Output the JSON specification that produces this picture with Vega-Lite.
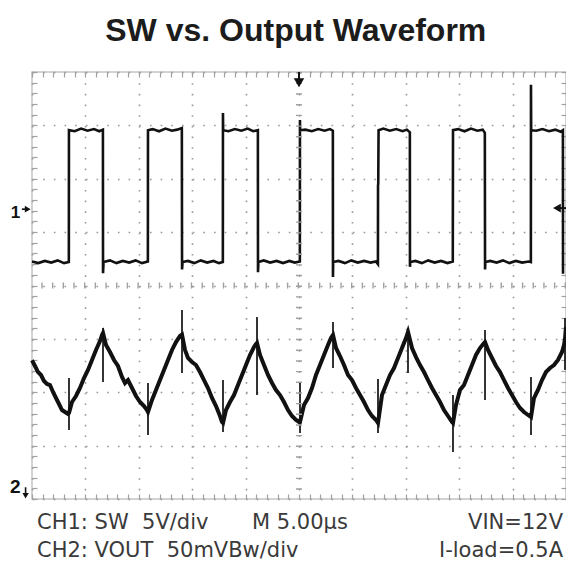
{
  "$schema": "https://vega.github.io/schema/vega-lite/v6.json",
  "width": 534,
  "height": 427,
  "autosize": {"type": "none"},
  "padding": {"left": 32, "top": 72, "right": 0, "bottom": 65},
  "background": "white",
  "config": {"view": {"stroke": "#c4c4c4", "strokeWidth": 1.5}},
  "resolve": {"axis": {"x": "independent", "y": "independent"}},
  "datasets": {
    "one": [{}],
    "sw": [
      {"t":0,"v":4.45},{"t":0.6,"v":4.42},{"t":1.2,"v":4.46},{"t":1.8,"v":4.43},{"t":2.4,"v":4.47},{"t":3.0,"v":4.42},{"t":3.45,"v":4.44},
      {"t":3.46,"v":6.91},{"t":4.0,"v":6.89},{"t":4.6,"v":6.94},{"t":5.2,"v":6.90},{"t":5.8,"v":6.93},{"t":6.3,"v":6.89},{"t":6.64,"v":6.92},
      {"t":6.65,"v":4.23},{"t":6.7,"v":4.44},{"t":7.3,"v":4.47},{"t":7.9,"v":4.42},{"t":8.5,"v":4.46},{"t":9.1,"v":4.43},{"t":9.7,"v":4.47},{"t":10.3,"v":4.42},{"t":10.85,"v":4.45},
      {"t":10.86,"v":6.91},{"t":11.3,"v":6.93},{"t":11.9,"v":6.89},{"t":12.5,"v":6.94},{"t":13.1,"v":6.90},{"t":13.6,"v":6.92},{"t":14.03,"v":6.95},
      {"t":14.05,"v":4.30},{"t":14.1,"v":4.44},{"t":14.6,"v":4.46},{"t":15.2,"v":4.42},{"t":15.8,"v":4.47},{"t":16.4,"v":4.43},{"t":17.0,"v":4.46},{"t":17.5,"v":4.42},{"t":17.87,"v":4.44},
      {"t":17.88,"v":7.23},{"t":17.9,"v":6.91},{"t":18.4,"v":6.89},{"t":19.0,"v":6.93},{"t":19.6,"v":6.90},{"t":20.2,"v":6.94},{"t":20.7,"v":6.89},{"t":21.15,"v":6.91},
      {"t":21.16,"v":4.25},{"t":21.2,"v":4.44},{"t":21.7,"v":4.47},{"t":22.3,"v":4.43},{"t":22.9,"v":4.46},{"t":23.5,"v":4.42},{"t":24.1,"v":4.46},{"t":24.6,"v":4.43},{"t":25.08,"v":4.45},
      {"t":25.09,"v":7.10},{"t":25.1,"v":6.91},{"t":25.6,"v":6.92},{"t":26.2,"v":6.89},{"t":26.8,"v":6.93},{"t":27.4,"v":6.90},{"t":27.9,"v":6.93},{"t":28.17,"v":6.90},
      {"t":28.18,"v":4.16},{"t":28.2,"v":4.44},{"t":28.7,"v":4.46},{"t":29.3,"v":4.42},{"t":29.9,"v":4.47},{"t":30.5,"v":4.43},{"t":31.1,"v":4.46},{"t":31.7,"v":4.43},{"t":32.2,"v":4.45},{"t":32.39,"v":4.40},
      {"t":32.40,"v":5.88},{"t":32.42,"v":5.90},{"t":32.45,"v":6.91},{"t":32.9,"v":6.94},{"t":33.5,"v":6.90},{"t":34.1,"v":6.93},{"t":34.7,"v":6.89},{"t":35.1,"v":6.92},{"t":35.38,"v":6.87},
      {"t":35.39,"v":4.35},{"t":35.42,"v":4.44},{"t":35.9,"v":4.46},{"t":36.5,"v":4.42},{"t":37.1,"v":4.47},{"t":37.7,"v":4.43},{"t":38.3,"v":4.46},{"t":38.9,"v":4.42},{"t":39.4,"v":4.45},
      {"t":39.42,"v":6.91},{"t":39.9,"v":6.93},{"t":40.5,"v":6.89},{"t":41.1,"v":6.94},{"t":41.7,"v":6.90},{"t":42.2,"v":6.92},{"t":42.4,"v":6.86},
      {"t":42.42,"v":4.30},{"t":42.45,"v":4.44},{"t":42.9,"v":4.46},{"t":43.5,"v":4.43},{"t":44.1,"v":4.47},{"t":44.7,"v":4.42},{"t":45.3,"v":4.46},{"t":45.9,"v":4.43},{"t":46.5,"v":4.45},{"t":46.71,"v":4.44},
      {"t":46.72,"v":7.76},{"t":46.74,"v":6.91},{"t":47.2,"v":6.90},{"t":47.8,"v":6.93},{"t":48.4,"v":6.89},{"t":49.0,"v":6.92},{"t":49.5,"v":6.88},{"t":49.71,"v":6.91},
      {"t":49.72,"v":4.22}
    ],
    "vout": [
      {"t":0,"v":2.60},{"t":0.281,"v":2.492},{"t":0.562,"v":2.379},{"t":0.843,"v":2.323},{"t":1.124,"v":2.211},{"t":1.404,"v":2.155},{"t":1.685,"v":2.136},{"t":1.966,"v":2.005},{"t":2.247,"v":1.892},{"t":2.528,"v":1.780},{"t":2.809,"v":1.667},{"t":3.090,"v":1.630},{"t":3.371,"v":1.592},{"t":3.464,"v":1.611},
      {"t":3.745,"v":1.817},{"t":4.120,"v":1.930},{"t":4.494,"v":2.080},{"t":4.869,"v":2.267},{"t":5.243,"v":2.417},{"t":5.618,"v":2.604},{"t":5.993,"v":2.792},{"t":6.367,"v":2.960},{"t":6.554,"v":3.073},{"t":6.648,"v":3.110},
      {"t":6.929,"v":2.885},{"t":7.303,"v":2.754},{"t":7.678,"v":2.604},{"t":8.052,"v":2.492},{"t":8.427,"v":2.286},{"t":8.708,"v":2.173},{"t":8.989,"v":2.229},{"t":9.363,"v":2.080},{"t":9.738,"v":1.930},{"t":10.112,"v":1.817},{"t":10.487,"v":1.742},{"t":10.768,"v":1.667},{"t":10.861,"v":1.630},
      {"t":11.236,"v":1.855},{"t":11.610,"v":2.042},{"t":11.985,"v":2.229},{"t":12.360,"v":2.417},{"t":12.734,"v":2.604},{"t":13.109,"v":2.792},{"t":13.483,"v":2.941},{"t":13.858,"v":3.054},{"t":14.045,"v":3.080},
      {"t":14.326,"v":2.792},{"t":14.607,"v":2.642},{"t":14.981,"v":2.567},{"t":15.356,"v":2.510},{"t":15.730,"v":2.379},{"t":16.105,"v":2.229},{"t":16.479,"v":2.080},{"t":16.854,"v":1.892},{"t":17.228,"v":1.742},{"t":17.603,"v":1.555},{"t":17.790,"v":1.443},{"t":17.884,"v":1.424},
      {"t":18.165,"v":1.667},{"t":18.539,"v":1.817},{"t":18.914,"v":1.948},{"t":19.288,"v":2.136},{"t":19.663,"v":2.323},{"t":20.037,"v":2.510},{"t":20.412,"v":2.698},{"t":20.787,"v":2.848},{"t":20.974,"v":2.904},{"t":21.067,"v":2.923},
      {"t":21.348,"v":2.698},{"t":21.723,"v":2.510},{"t":22.097,"v":2.323},{"t":22.472,"v":2.173},{"t":22.846,"v":2.042},{"t":23.221,"v":1.948},{"t":23.596,"v":1.817},{"t":23.970,"v":1.667},{"t":24.345,"v":1.555},{"t":24.719,"v":1.480},{"t":25.000,"v":1.443},{"t":25.094,"v":1.443},
      {"t":25.468,"v":1.761},{"t":25.843,"v":1.892},{"t":26.217,"v":2.080},{"t":26.592,"v":2.323},{"t":26.966,"v":2.510},{"t":27.341,"v":2.698},{"t":27.715,"v":2.885},{"t":27.996,"v":3.016},{"t":28.184,"v":3.073},
      {"t":28.464,"v":2.829},{"t":28.839,"v":2.679},{"t":29.213,"v":2.510},{"t":29.588,"v":2.323},{"t":29.963,"v":2.229},{"t":30.337,"v":2.080},{"t":30.712,"v":1.948},{"t":31.086,"v":1.817},{"t":31.461,"v":1.667},{"t":31.835,"v":1.555},{"t":32.210,"v":1.480},{"t":32.397,"v":1.424},
      {"t":32.772,"v":1.948},{"t":33.146,"v":2.136},{"t":33.521,"v":2.323},{"t":33.895,"v":2.454},{"t":34.270,"v":2.642},{"t":34.644,"v":2.829},{"t":35.019,"v":3.016},{"t":35.206,"v":3.129},
      {"t":35.581,"v":2.829},{"t":35.955,"v":2.660},{"t":36.330,"v":2.510},{"t":36.704,"v":2.379},{"t":37.079,"v":2.229},{"t":37.453,"v":2.080},{"t":37.828,"v":1.948},{"t":38.202,"v":1.817},{"t":38.577,"v":1.667},{"t":38.951,"v":1.555},{"t":39.326,"v":1.443},{"t":39.419,"v":1.424},
      {"t":39.700,"v":1.761},{"t":40.075,"v":2.042},{"t":40.449,"v":2.136},{"t":40.824,"v":2.323},{"t":41.198,"v":2.510},{"t":41.573,"v":2.698},{"t":41.948,"v":2.829},{"t":42.322,"v":2.923},{"t":42.416,"v":2.941},
      {"t":42.697,"v":2.792},{"t":43.071,"v":2.642},{"t":43.446,"v":2.492},{"t":43.820,"v":2.379},{"t":44.195,"v":2.229},{"t":44.569,"v":2.080},{"t":44.944,"v":1.948},{"t":45.318,"v":1.817},{"t":45.693,"v":1.705},{"t":46.067,"v":1.630},{"t":46.442,"v":1.574},{"t":46.723,"v":1.536},
      {"t":47.004,"v":1.892},{"t":47.378,"v":2.042},{"t":47.753,"v":2.229},{"t":48.127,"v":2.379},{"t":48.502,"v":2.454},{"t":48.876,"v":2.510},{"t":49.251,"v":2.604},{"t":49.625,"v":2.754},{"t":49.813,"v":2.885},{"t":49.906,"v":3.000},{"t":50,"v":3.222}
    ],
    "spikes": [
      {"t":3.464,"lo":1.293,"hi":2.267},
      {"t":6.648,"lo":2.192,"hi":3.204},
      {"t":10.861,"lo":1.199,"hi":2.173},
      {"t":14.045,"lo":2.361,"hi":3.541},
      {"t":17.884,"lo":1.255,"hi":2.229},
      {"t":21.067,"lo":1.948,"hi":3.410},
      {"t":25.094,"lo":1.237,"hi":2.173},
      {"t":28.184,"lo":2.454,"hi":3.316},
      {"t":32.397,"lo":1.237,"hi":2.248},
      {"t":35.206,"lo":2.361,"hi":3.204},
      {"t":39.419,"lo":0.881,"hi":1.948},
      {"t":42.416,"lo":1.855,"hi":3.166},
      {"t":46.723,"lo":1.199,"hi":2.286},
      {"t":49.906,"lo":2.417,"hi":3.391}
    ]
  },
  "layer": [
    {
      "data": {"name": "sw"},
      "mark": {"type": "line", "color": "#111111", "strokeWidth": 2.6, "strokeJoin": "miter"},
      "encoding": {
        "x": {"field": "t", "type": "quantitative", "scale": {"domain": [0, 50], "nice": false, "zero": false},
          "axis": {"orient": "bottom", "values": [0,1,2,3,4,5,6,7,8,9,10,11,12,13,14,15,16,17,18,19,20,21,22,23,24,25,26,27,28,29,30,31,32,33,34,35,36,37,38,39,40,41,42,43,44,45,46,47,48,49,50],
            "labels": false, "domain": false, "title": null, "tickSize": -5, "tickColor": "#a0a0a0", "tickWidth": 1.2,
            "grid": true, "gridColor": "#999999", "gridWidth": 1.6, "gridDash": [1.6, 9.075],
            "gridOpacity": {"condition": {"test": "datum.value % 5 === 0", "value": 1}, "value": 0}}},
        "y": {"field": "v", "type": "quantitative", "scale": {"domain": [0, 8], "nice": false, "zero": false},
          "axis": {"orient": "left", "values": [0,0.2,0.4,0.6,0.8,1,1.2,1.4,1.6,1.8,2,2.2,2.4,2.6,2.8,3,3.2,3.4,3.6,3.8,4,4.2,4.4,4.6,4.8,5,5.2,5.4,5.6,5.8,6,6.2,6.4,6.6,6.8,7,7.2,7.4,7.6,7.8,8],
            "labels": false, "domain": false, "title": null, "tickSize": -5, "tickColor": "#a0a0a0", "tickWidth": 1.2,
            "grid": true, "gridColor": "#999999", "gridWidth": 1.6, "gridDash": [1.6, 9.08],
            "gridOpacity": {"condition": {"test": "abs(datum.value - round(datum.value)) < 0.01", "value": 1}, "value": 0}}},
        "order": {"value": null}
      }
    },
    {
      "data": {"name": "vout"},
      "mark": {"type": "line", "color": "#111111", "strokeWidth": 4},
      "encoding": {
        "x": {"field": "t", "type": "quantitative", "scale": {"domain": [0, 50], "nice": false, "zero": false},
          "axis": {"orient": "top", "values": [0,1,2,3,4,5,6,7,8,9,10,11,12,13,14,15,16,17,18,19,20,21,22,23,24,25,26,27,28,29,30,31,32,33,34,35,36,37,38,39,40,41,42,43,44,45,46,47,48,49,50],
            "labels": false, "domain": false, "title": null, "tickSize": -5, "tickColor": "#a0a0a0", "tickWidth": 1.2, "grid": false}},
        "y": {"field": "v", "type": "quantitative", "scale": {"domain": [0, 8], "nice": false, "zero": false},
          "axis": {"orient": "right", "values": [0,0.2,0.4,0.6,0.8,1,1.2,1.4,1.6,1.8,2,2.2,2.4,2.6,2.8,3,3.2,3.4,3.6,3.8,4,4.2,4.4,4.6,4.8,5,5.2,5.4,5.6,5.8,6,6.2,6.4,6.6,6.8,7,7.2,7.4,7.6,7.8,8],
            "labels": false, "domain": false, "title": null, "tickSize": -5, "tickColor": "#a0a0a0", "tickWidth": 1.2, "grid": false}},
        "order": {"value": null}
      }
    },
    {
      "data": {"name": "spikes"},
      "mark": {"type": "rule", "color": "#111111", "strokeWidth": 1.7},
      "encoding": {
        "x": {"field": "t", "type": "quantitative", "scale": {"domain": [0, 50], "nice": false, "zero": false}, "axis": null},
        "y": {"field": "lo", "type": "quantitative", "scale": {"domain": [0, 8], "nice": false, "zero": false}, "axis": null},
        "y2": {"field": "hi"}
      }
    },
    {
      "data": {"name": "one"},
      "mark": {"type": "rule", "color": "#a0a0a0", "strokeWidth": 6, "strokeDash": [1.4, 9.28]},
      "encoding": {"y": {"datum": 4, "type": "quantitative", "scale": {"domain": [0, 8], "nice": false, "zero": false}, "axis": null}}
    },
    {
      "data": {"name": "one"},
      "mark": {"type": "rule", "color": "#a0a0a0", "strokeWidth": 6, "strokeDash": [1.4, 9.275]},
      "encoding": {"x": {"datum": 25, "type": "quantitative", "scale": {"domain": [0, 50], "nice": false, "zero": false}, "axis": null}}
    },
    {
      "data": {"name": "one"},
      "mark": {"type": "rule", "color": "#111111", "strokeWidth": 2, "clip": false},
      "encoding": {
        "x": {"datum": 25, "type": "quantitative", "scale": {"domain": [0, 50], "nice": false, "zero": false}, "axis": null},
        "y": {"datum": 8, "type": "quantitative", "scale": {"domain": [0, 8], "nice": false, "zero": false}, "axis": null},
        "y2": {"datum": 7.85}
      }
    },
    {
      "data": {"name": "one"},
      "mark": {"type": "point", "shape": "triangle-down", "filled": true, "color": "#111111", "size": 110, "opacity": 1, "clip": false},
      "encoding": {
        "x": {"datum": 25, "type": "quantitative", "scale": {"domain": [0, 50], "nice": false, "zero": false}, "axis": null},
        "y": {"datum": 7.8, "type": "quantitative", "scale": {"domain": [0, 8], "nice": false, "zero": false}, "axis": null}
      }
    },
    {
      "data": {"name": "one"},
      "mark": {"type": "rule", "color": "#111111", "strokeWidth": 2, "clip": false},
      "encoding": {
        "x": {"datum": 49.3, "type": "quantitative", "scale": {"domain": [0, 50], "nice": false, "zero": false}, "axis": null},
        "x2": {"datum": 50},
        "y": {"datum": 5.45, "type": "quantitative", "scale": {"domain": [0, 8], "nice": false, "zero": false}, "axis": null}
      }
    },
    {
      "data": {"name": "one"},
      "mark": {"type": "point", "shape": "triangle-left", "filled": true, "color": "#111111", "size": 80, "opacity": 1, "clip": false},
      "encoding": {
        "x": {"datum": 49.15, "type": "quantitative", "scale": {"domain": [0, 50], "nice": false, "zero": false}, "axis": null},
        "y": {"datum": 5.45, "type": "quantitative", "scale": {"domain": [0, 8], "nice": false, "zero": false}, "axis": null}
      }
    },
    {
      "data": {"name": "one"},
      "mark": {"type": "rule", "color": "#111111", "strokeWidth": 1.6, "clip": false},
      "encoding": {
        "x": {"datum": -0.95, "type": "quantitative", "scale": {"domain": [0, 50], "nice": false, "zero": false}, "axis": null},
        "x2": {"datum": -0.5},
        "y": {"datum": 5.43, "type": "quantitative", "scale": {"domain": [0, 8], "nice": false, "zero": false}, "axis": null}
      }
    },
    {
      "data": {"name": "one"},
      "mark": {"type": "point", "shape": "triangle-right", "filled": true, "color": "#111111", "size": 45, "opacity": 1, "clip": false},
      "encoding": {
        "x": {"datum": -0.4, "type": "quantitative", "scale": {"domain": [0, 50], "nice": false, "zero": false}, "axis": null},
        "y": {"datum": 5.43, "type": "quantitative", "scale": {"domain": [0, 8], "nice": false, "zero": false}, "axis": null}
      }
    },
    {
      "data": {"name": "one"},
      "mark": {"type": "text", "text": "1", "font": "Liberation Sans", "fontWeight": "bold", "fontSize": 17, "align": "left", "baseline": "alphabetic", "color": "#111111", "clip": false},
      "encoding": {
        "x": {"datum": -2.0, "type": "quantitative", "scale": {"domain": [0, 50], "nice": false, "zero": false}, "axis": null},
        "y": {"datum": 5.27, "type": "quantitative", "scale": {"domain": [0, 8], "nice": false, "zero": false}, "axis": null}
      }
    },
    {
      "data": {"name": "one"},
      "mark": {"type": "text", "text": "2", "font": "Liberation Sans", "fontWeight": "bold", "fontSize": 19, "align": "left", "baseline": "alphabetic", "color": "#111111", "clip": false},
      "encoding": {
        "x": {"datum": -2.05, "type": "quantitative", "scale": {"domain": [0, 50], "nice": false, "zero": false}, "axis": null},
        "y": {"datum": 0.11, "type": "quantitative", "scale": {"domain": [0, 8], "nice": false, "zero": false}, "axis": null}
      }
    },
    {
      "data": {"name": "one"},
      "mark": {"type": "rule", "color": "#111111", "strokeWidth": 1.6, "clip": false},
      "encoding": {
        "x": {"datum": -0.6, "type": "quantitative", "scale": {"domain": [0, 50], "nice": false, "zero": false}, "axis": null},
        "y": {"datum": 0.22, "type": "quantitative", "scale": {"domain": [0, 8], "nice": false, "zero": false}, "axis": null},
        "y2": {"datum": 0.08}
      }
    },
    {
      "data": {"name": "one"},
      "mark": {"type": "point", "shape": "triangle-down", "filled": true, "color": "#111111", "size": 40, "opacity": 1, "clip": false},
      "encoding": {
        "x": {"datum": -0.6, "type": "quantitative", "scale": {"domain": [0, 50], "nice": false, "zero": false}, "axis": null},
        "y": {"datum": 0.06, "type": "quantitative", "scale": {"domain": [0, 8], "nice": false, "zero": false}, "axis": null}
      }
    },
    {
      "data": {"name": "one"},
      "mark": {"type": "text", "text": "SW vs. Output Waveform", "font": "Liberation Sans", "fontWeight": "bold", "fontSize": 32, "align": "center", "baseline": "alphabetic", "color": "#1c1c1c", "clip": false},
      "encoding": {
        "x": {"datum": 24.7, "type": "quantitative", "scale": {"domain": [0, 50], "nice": false, "zero": false}, "axis": null},
        "y": {"datum": 8.58, "type": "quantitative", "scale": {"domain": [0, 8], "nice": false, "zero": false}, "axis": null}
      }
    },
    {
      "data": {"name": "one"},
      "mark": {"type": "text", "text": "CH1: SW\u00a0 5V/div", "font": "DejaVu Sans", "fontSize": 21, "align": "left", "baseline": "alphabetic", "color": "#3a3a3a", "clip": false},
      "encoding": {
        "x": {"datum": 0.47, "type": "quantitative", "scale": {"domain": [0, 50], "nice": false, "zero": false}, "axis": null},
        "y": {"datum": -0.562, "type": "quantitative", "scale": {"domain": [0, 8], "nice": false, "zero": false}, "axis": null}
      }
    },
    {
      "data": {"name": "one"},
      "mark": {"type": "text", "text": "M 5.00µs", "font": "DejaVu Sans", "fontSize": 21, "align": "left", "baseline": "alphabetic", "color": "#3a3a3a", "clip": false},
      "encoding": {
        "x": {"datum": 20.6, "type": "quantitative", "scale": {"domain": [0, 50], "nice": false, "zero": false}, "axis": null},
        "y": {"datum": -0.562, "type": "quantitative", "scale": {"domain": [0, 8], "nice": false, "zero": false}, "axis": null}
      }
    },
    {
      "data": {"name": "one"},
      "mark": {"type": "text", "text": "VIN=12V", "font": "DejaVu Sans", "fontSize": 21, "align": "right", "baseline": "alphabetic", "color": "#3a3a3a", "clip": false},
      "encoding": {
        "x": {"datum": 49.72, "type": "quantitative", "scale": {"domain": [0, 50], "nice": false, "zero": false}, "axis": null},
        "y": {"datum": -0.562, "type": "quantitative", "scale": {"domain": [0, 8], "nice": false, "zero": false}, "axis": null}
      }
    },
    {
      "data": {"name": "one"},
      "mark": {"type": "text", "text": "CH2: VOUT\u00a0 50mVBw/div", "font": "DejaVu Sans", "fontSize": 21, "align": "left", "baseline": "alphabetic", "color": "#3a3a3a", "clip": false},
      "encoding": {
        "x": {"datum": 0.47, "type": "quantitative", "scale": {"domain": [0, 50], "nice": false, "zero": false}, "axis": null},
        "y": {"datum": -1.096, "type": "quantitative", "scale": {"domain": [0, 8], "nice": false, "zero": false}, "axis": null}
      }
    },
    {
      "data": {"name": "one"},
      "mark": {"type": "text", "text": "I-load=0.5A", "font": "DejaVu Sans", "fontSize": 21, "align": "right", "baseline": "alphabetic", "color": "#3a3a3a", "clip": false},
      "encoding": {
        "x": {"datum": 49.72, "type": "quantitative", "scale": {"domain": [0, 50], "nice": false, "zero": false}, "axis": null},
        "y": {"datum": -1.096, "type": "quantitative", "scale": {"domain": [0, 8], "nice": false, "zero": false}, "axis": null}
      }
    }
  ]
}
